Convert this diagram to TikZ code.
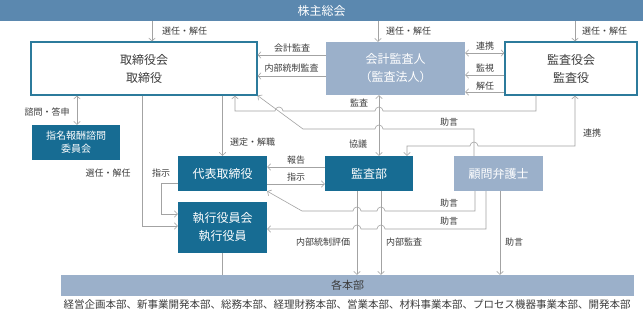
\documentclass[tikz,border=0pt]{standalone}
\usepackage{fontspec}
\setmainfont{Noto Sans CJK JP}
\usetikzlibrary{arrows.meta,calc}
\definecolor{barblue}{HTML}{5B88AF}
\definecolor{dblue}{HTML}{176C93}
\definecolor{lblue}{HTML}{9BB0CA}
\definecolor{lgray}{HTML}{A3A3A3}
\definecolor{tgray}{HTML}{3C3C3C}
\definecolor{bord}{HTML}{2C7B9C}
\begin{document}
\begin{tikzpicture}[x=1pt,y=-1pt,
  box/.style={inner sep=0pt,align=center,font=\fontsize{12}{18}\selectfont},
  whitebox/.style={box,fill=white,draw=bord,line width=1.2pt,text=tgray},
  darkbox/.style={box,fill=dblue,text=white},
  lightbox/.style={box,fill=lblue,text=white},
  lab/.style={inner sep=0pt,font=\fontsize{9}{10}\selectfont,text=tgray},
  conn/.style={draw=lgray,line width=0.6pt},
  arr/.style={conn,-{Straight Barb[length=3pt,width=6.5pt]}},
  darr/.style={conn,{Straight Barb[length=3pt,width=6.5pt]}-{Straight Barb[length=3pt,width=6.5pt]}},
]
\useasboundingbox (0,0) rectangle (643,314);
\fill[white] (0,0) rectangle (643,314);

% nodes
\node[box,fill=barblue,text=white,minimum width=643,minimum height=21] (kabu) at (321.5,10.5) {株主総会};
\node[whitebox,minimum width=226,minimum height=53] (tori) at (144,68.5) {取締役会\\取締役};
\node[lightbox,minimum width=139,minimum height=53] (kaikei) at (395.5,68.5) {会計監査人\\（監査法人）};
\node[whitebox,minimum width=132,minimum height=53] (kansa) at (571,68.5) {監査役会\\監査役};
\node[darkbox,minimum width=88,minimum height=35,font=\fontsize{10}{13}\selectfont] (shimei) at (76,142.5) {指名報酬諮問\\委員会};
\node[darkbox,minimum width=89,minimum height=35] (daihyo) at (222.5,173.5) {代表取締役};
\node[darkbox,minimum width=89,minimum height=51] (shikko) at (222.5,227.5) {執行役員会\\執行役員};
\node[darkbox,minimum width=88,minimum height=35] (kansabu) at (369,173.5) {監査部};
\node[lightbox,minimum width=89,minimum height=35] (komon) at (498.5,173.5) {顧問弁護士};
\node[box,fill=lblue,text=tgray,minimum width=573,minimum height=21,font=\fontsize{11}{12}\selectfont] (honbu) at (347.5,285.5) {各本部};
\node[inner sep=0pt,text=tgray,font=\fontsize{10.5}{12}\selectfont] (list) at (347,304.5) {経営企画本部、新事業開発本部、総務本部、経理財務本部、営業本部、材料事業本部、プロセス機器事業本部、開発本部};

% shareholders
\draw[arr] (kabu.south -| 152,0) -- (tori.north -| 152,0);
\node[lab,anchor=west] (l1) at (162,31) {選任・解任};
\draw[arr] (kabu.south -| 378,0) -- (kaikei.north -| 378,0);
\node[lab,anchor=west] (l2) at (386,31) {選任・解任};
\draw[arr] (kabu.south -| 575,0) -- (kansa.north -| 575,0);
\node[lab,anchor=west] (l3) at (582,31) {選任・解任};

% accounting auditor -> board
\draw[arr] (kaikei.west |- 0,55) -- (tori.east |- 0,55);
\node[lab] (l4) at (292,48) {会計監査};
\draw[arr] (kaikei.west |- 0,76) -- (tori.east |- 0,76);
\node[lab] (l5) at (291.5,68) {内部統制監査};

% auditor <-> audit board
\draw[darr] (kaikei.east |- 0,53) -- (kansa.west |- 0,53);
\node[lab] (l6) at (485,46) {連携};
\draw[arr] (kansa.west |- 0,75) -- (kaikei.east |- 0,75);
\node[lab] (l7) at (485,68) {監視};
\draw[arr] (kansa.west |- 0,92) -- (kaikei.east |- 0,92);
\node[lab] (l8) at (485,86) {解任};

% board -> committee
\draw[darr] (tori.south -| 77,0) -- (shimei.north -| 77,0);
\node[lab] (l9) at (47,112) {諮問・答申};

% board -> executive officers
\draw[arr] (tori.south -| 142,0) |- (shikko.west |- 0,226);
\node[lab] (l10) at (108,173) {選任・解任};

% board -> representative director
\draw[arr] (tori.south -| daihyo.north) -- (daihyo.north);
\node[lab,anchor=west] (l11) at (230,142) {選定・解職};

% audit board -> board (監査)
\draw[arr] (kansa.south -| 536,0) -- (536,111) -- (383,111)
  arc[start angle=0,end angle=180,radius=4pt] -- (283,111)
  arc[start angle=0,end angle=180,radius=4pt] -- (235,111) -- (tori.south -| 235,0);
\node[lab] (l12) at (359,103) {監査};

% lawyer -> board (助言)
\draw[arr] (komon.north -| 474,0) -- (474,129) -- (383,129)
  arc[start angle=0,end angle=180,radius=4pt] -- (303,129) -- (tori.south east);
\node[lab] (l13) at (449,122) {助言};

% audit board <-> audit dept (連携)
\draw[darr] (kansa.south -| 575,0) -- (575,146) -- (478,146)
  arc[start angle=0,end angle=180,radius=4pt] -- (407,146) -- (kansabu.north -| 407,0);
\node[lab] (l14) at (592,133) {連携};

% auditor <-> audit dept (協議)
\draw[darr] (kaikei.south -| 379,0) -- (kansabu.north -| 379,0);
\node[lab] (l15) at (358,144) {協議};

% representative <-> audit dept
\draw[arr] (kansabu.west |- 0,167) -- (daihyo.east |- 0,167);
\node[lab] (l16) at (296,160) {報告};
\draw[arr] (daihyo.east |- 0,184) -- (kansabu.west |- 0,184);
\node[lab] (l17) at (296,177) {指示};

% representative -> executive officers
\draw[arr] (daihyo.west |- 0,183) -- (161,183) |- (shikko.west |- 0,214);
\node[lab] (l18) at (161,173) {指示};

% lawyer advice lines
\draw[arr] (komon.south -| 475,0) -- (475,211) -- (385,211)
  arc[start angle=0,end angle=180,radius=4pt] -- (361,211)
  arc[start angle=0,end angle=180,radius=4pt] -- (302,211) -- (daihyo.south east);
\node[lab] (l19) at (449,203) {助言};
\draw[arr] (komon.south -| 486,0) -- (486,229) -- (385,229)
  arc[start angle=0,end angle=180,radius=4pt] -- (361,229)
  arc[start angle=0,end angle=180,radius=4pt] -- (shikko.east |- 0,229);
\node[lab] (l20) at (449,221) {助言};
\draw[arr] (komon.south -| 500,0) -- (honbu.north -| 500,0);
\node[lab] (l21) at (514,242) {助言};

% audit dept -> divisions
\draw[arr] (kansabu.south -| 357,0) -- (honbu.north -| 357,0);
\node[lab] (l22) at (323,242) {内部統制評価};
\draw[arr] (kansabu.south -| 381,0) -- (honbu.north -| 381,0);
\node[lab] (l23) at (404,242) {内部監査};

% executive officers -- divisions
\draw[conn] (shikko.south) -- (honbu.north -| shikko.south);
\end{tikzpicture}
\end{document}
